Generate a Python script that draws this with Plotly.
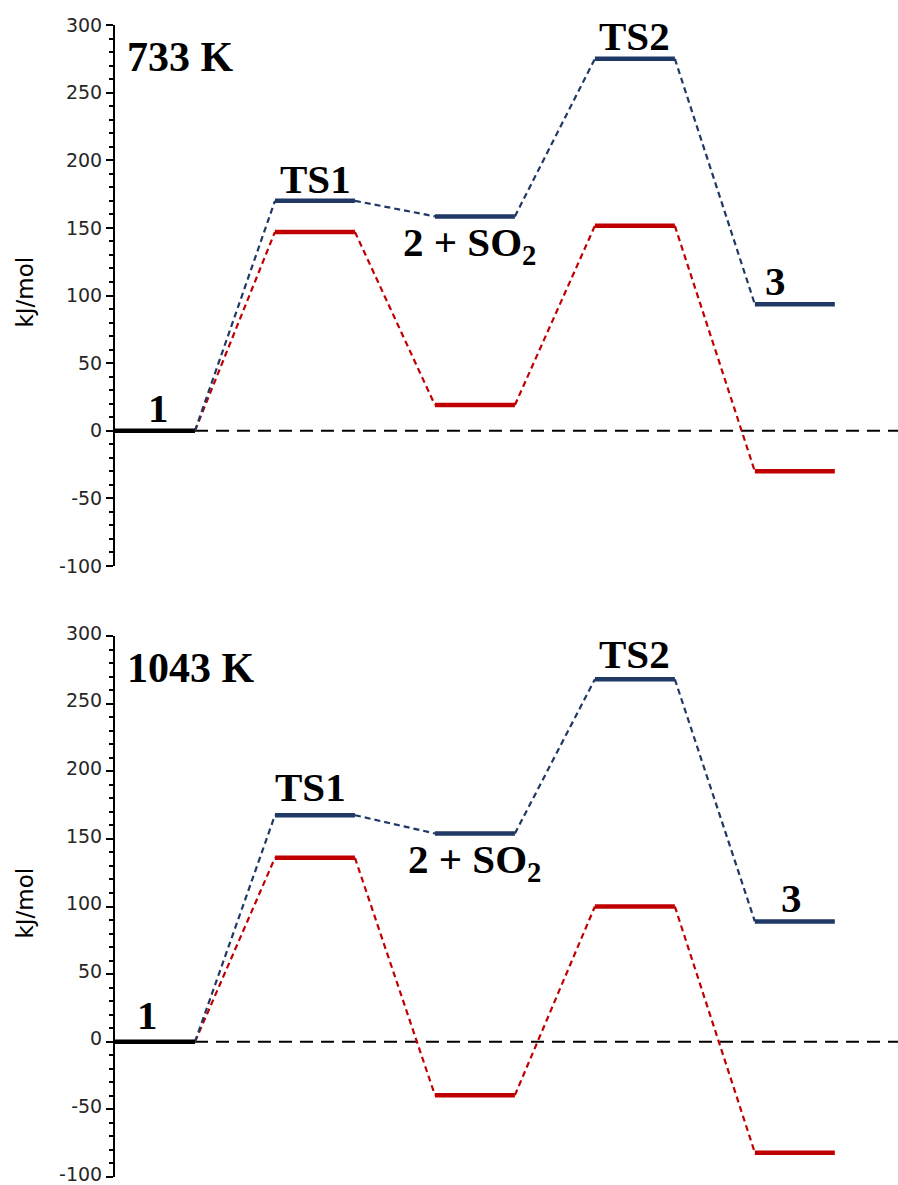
import plotly.graph_objects as go

# ---------------- data ----------------
states = ["1", "TS1", "2 + SO<sub>2</sub>", "TS2", "3"]
temps = ["733 K", "1043 K"]
y_title = "kJ/mol"

blue_733 = [0, 170, 158.5, 275, 93.5]
red_733 = [0, 147, 19, 151.5, -30]
blue_1043 = [0, 167.5, 154, 268, 89]
red_1043 = [0, 136, -39.5, 100, -82]

# label anchors (x in state units, y in kJ/mol)
label_x_733 = [0.54, 2.51, 4.43, 6.49, 8.26]
label_y_733 = [17, 186, 137, 292, 111]
label_x_1043 = [0.41, 2.45, 4.49, 6.5, 8.46]
label_y_1043 = [20, 188, 133, 287, 106]

y_ticks = [-100, -50, 0, 50, 100, 150, 200, 250, 300]
y_ticktext = ["-100", "-50", "0", "50", "100", "150", "200", "250", "300"]
y_range = [-100, 300]
x_max = 9.79
level_width = 1.0
level_step = 2.0

BLUE = "#1F3864"
RED = "#C00000"
BLACK = "#000000"

W, H = 898, 1185
fig = go.Figure()

# panel domains (pixels -> paper)
top_dom = [1 - 566 / H, 1 - 25 / H]
bot_dom = [1 - 1177 / H, 1 - 636 / H]


def level_xy(values, start=0):
    xs, ys = [], []
    for i, v in enumerate(values):
        x0 = (i + start) * level_step
        xs += [x0, x0 + level_width, None]
        ys += [v, v, None]
    return xs, ys


def conn_xy(values):
    xs, ys = [], []
    for i in range(len(values) - 1):
        xs += [i * level_step + level_width, (i + 1) * level_step, None]
        ys += [values[i], values[i + 1], None]
    return xs, ys


panels = [
    (blue_733, red_733, label_x_733, label_y_733, temps[0], "x", "y", top_dom),
    (blue_1043, red_1043, label_x_1043, label_y_1043, temps[1], "x2", "y2", bot_dom),
]

for blue, red, lx, ly, temp, xa, ya, dom in panels:
    # zero reference line
    fig.add_trace(go.Scatter(x=[level_width, x_max], y=[0, 0], mode="lines",
                             line=dict(color=BLACK, width=2, dash="13px,8px"),
                             xaxis=xa, yaxis=ya, hoverinfo="skip", showlegend=False))
    for vals, col in ((red, RED), (blue, BLUE)):
        cx, cy = conn_xy(vals)
        fig.add_trace(go.Scatter(x=cx, y=cy, mode="lines",
                                 line=dict(color=col, width=2.2, dash="6px,4px"),
                                 xaxis=xa, yaxis=ya, showlegend=False))
    for vals, col in ((red, RED), (blue, BLUE)):
        sx, sy = level_xy(vals[1:], start=1)
        fig.add_trace(go.Scatter(x=sx, y=sy, mode="lines",
                                 line=dict(color=col, width=4.5),
                                 xaxis=xa, yaxis=ya, showlegend=False))
    # reactant level (black)
    fx, fy = level_xy(blue[:1])
    fig.add_trace(go.Scatter(x=fx, y=fy, mode="lines",
                             line=dict(color=BLACK, width=4.5),
                             xaxis=xa, yaxis=ya, showlegend=False))
    # state labels
    for s, x, y in zip(states, lx, ly):
        fig.add_annotation(x=x, y=y, xref=xa, yref=ya, text="<b>" + s + "</b>",
                           showarrow=False,
                           font=dict(family="Liberation Serif", size=41, color=BLACK))
    fig.add_annotation(x=0.12, y=276, xref=xa, yref=ya, text="<b>" + temp + "</b>",
                       showarrow=False, xanchor="left",
                       font=dict(family="Liberation Serif", size=42, color=BLACK))
    # y-axis title
    fig.add_annotation(x=0, y=(dom[0] + dom[1]) / 2 + 3 / H, xref="paper", yref="paper",
                       xshift=-91, xanchor="center", yanchor="middle",
                       text=y_title, textangle=-90, showarrow=False,
                       font=dict(family="DejaVu Sans", size=23, color=BLACK))

xaxis_style = dict(range=[0, x_max], visible=False, domain=[0, 1])
yaxis_style = dict(range=y_range, tickvals=y_ticks, ticktext=y_ticktext,
                   showgrid=False, zeroline=False, automargin=False,
                   ticklabeloverflow="allow",
                   showline=True, linecolor=BLACK, linewidth=2,
                   ticks="outside", ticklen=7, tickwidth=2, tickcolor=BLACK,
                   minor=dict(dtick=10, ticks="outside", ticklen=4, tickwidth=2,
                              tickcolor=BLACK, showgrid=False),
                   tickfont=dict(family="DejaVu Sans", size=19, color="#262626"))

fig.update_layout(
    width=W, height=H,
    margin=dict(l=115, r=0, t=0, b=0, autoexpand=False),
    paper_bgcolor="white", plot_bgcolor="white",
    xaxis=dict(xaxis_style, anchor="y"),
    xaxis2=dict(xaxis_style, anchor="y2"),
    yaxis=dict(yaxis_style, domain=top_dom, anchor="x"),
    yaxis2=dict(yaxis_style, domain=bot_dom, anchor="x2", ticklabelshift=-3),
    showlegend=False,
)

fig.write_html("out.html",
               config={"displayModeBar": False},
               post_script="document.body.style.margin='0';"
                           "document.body.style.overflow='hidden';")
